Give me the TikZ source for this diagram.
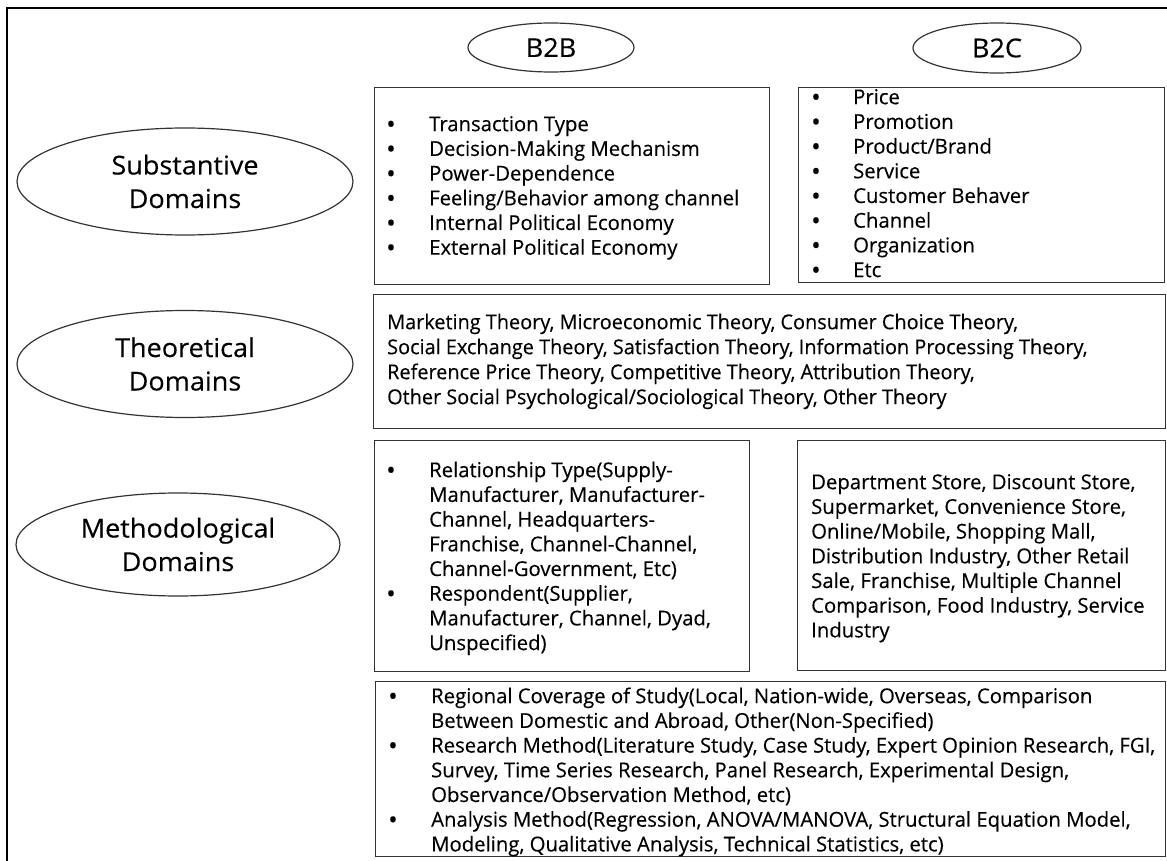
\documentclass[tikz,border=0pt]{standalone}
\usepackage{fontspec}
\setmainfont{Open Sans}[FakeStretch=0.99, FakeBold=0.3]
\newfontfamily\thfont{Open Sans}[FakeStretch=0.97, FakeBold=0.3]
\newfontfamily\elfont{Open Sans}[FakeStretch=1.04, FakeBold=0.3]
\usetikzlibrary{shapes.geometric}
\definecolor{frame}{HTML}{333333}
\newcommand\bdot{\raisebox{-2pt}{\scalebox{1.25}{\textbullet}}}
\newcommand\bul{\makebox[43pt][l]{\bdot}}
\newcommand\ind{\hspace*{43pt}}
\tikzset{
  box/.style={draw=frame, line width=1.4pt, anchor=north west, inner sep=0pt},
  ell/.style={ellipse, draw=frame, line width=1.2pt, inner sep=0pt, align=center,
              font=\elfont\fontsize{26}{33.5}\selectfont},
  lst/.style={anchor=north west, inner sep=0pt, font=\fontsize{20.5}{24.7}\selectfont},
}
\begin{document}
\begin{tikzpicture}[x=1pt,y=-1pt]
\useasboundingbox (0,0) rectangle (1167,861);
\draw[line width=1.4pt, black] (7,861) -- (7,8) -- (1167,8);

% header ellipses
\node[ell, minimum width=166pt, minimum height=49pt] (b2b) at (551,47.5) {B2B};
\node[ell, minimum width=168pt, minimum height=50pt] (b2c) at (997,48) {B2C};

% domain ellipses
\node[ell, minimum width=336pt, minimum height=107pt] (sub) at (185,181.5) {Substantive\\Domains};
\node[ell, minimum width=336pt, minimum height=107pt] (theo) at (185,364) {Theoretical\\Domains};
\node[ell, minimum width=324pt, minimum height=103pt] (meth) at (178,544.5) {Methodological\\Domains};

% boxes
\node[box, minimum width=395pt, minimum height=197pt] (subb2b) at (374,87) {};
\node[box, minimum width=366pt, minimum height=195pt] (subb2c) at (798,87) {};
\node[box, minimum width=792pt, minimum height=134pt] (theobox) at (373,294) {};
\node[box, minimum width=375pt, minimum height=231pt] (methb2b) at (374,440) {};
\node[box, minimum width=368pt, minimum height=230pt] (methb2c) at (797,440) {};
\node[box, minimum width=790pt, minimum height=175pt] (methall) at (375,681) {};

% texts
\node[lst] (t1) at (386,113.7) {\begin{tabular}{@{}l@{}}
\bul Transaction Type\\
\bul Decision-Making Mechanism\\
\bul Power-Dependence\\
\bul Feeling/Behavior among channel\\
\bul Internal Political Economy\\
\bul External Political Economy
\end{tabular}};

\node[lst] (t2) at (811,86.7) {\begin{tabular}{@{}l@{}}
\makebox[42pt][l]{\bdot}Price\\
\makebox[42pt][l]{\bdot}Promotion\\
\makebox[42pt][l]{\bdot}Product/Brand\\
\makebox[42pt][l]{\bdot}Service\\
\makebox[42pt][l]{\bdot}Customer Behaver\\
\makebox[42pt][l]{\bdot}Channel\\
\makebox[42pt][l]{\bdot}Organization\\
\makebox[42pt][l]{\bdot}Etc
\end{tabular}};

\node[lst, font=\thfont\fontsize{20.5}{25}\selectfont] (t3) at (387,311.5) {\begin{tabular}{@{}l@{}}
Marketing Theory, Microeconomic Theory, Consumer Choice Theory,\\
Social Exchange Theory, Satisfaction Theory, Information Processing Theory,\\
Reference Price Theory, Competitive Theory, Attribution Theory,\\
Other Social Psychological/Sociological Theory, Other Theory
\end{tabular}};

\node[lst] (t4) at (386,459.7) {\begin{tabular}{@{}l@{}}
\bul Relationship Type(Supply-\\
\ind Manufacturer, Manufacturer-\\
\ind Channel, Headquarters-\\
\ind Franchise, Channel-Channel,\\
\ind Channel-Government, Etc)\\
\bul Respondent(Supplier,\\
\ind Manufacturer, Channel, Dyad,\\
\ind Unspecified)
\end{tabular}};

\node[lst] (t5) at (811,471.7) {\begin{tabular}{@{}l@{}}
Department Store, Discount Store,\\
Supermarket, Convenience Store,\\
Online/Mobile, Shopping Mall,\\
Distribution Industry, Other Retail\\
Sale, Franchise, Multiple Channel\\
Comparison, Food Industry, Service\\
Industry
\end{tabular}};

\node[lst] (t6) at (388,685.7) {\begin{tabular}{@{}l@{}}
\bul Regional Coverage of Study(Local, Nation-wide, Overseas, Comparison\\
\ind Between Domestic and Abroad, Other(Non-Specified)\\
\bul \makebox[724pt][s]{Research Method(Literature Study, Case Study, Expert Opinion Research, FGI,}\\
\ind Survey, Time Series Research, Panel Research, Experimental Design,\\
\ind Observance/Observation Method, etc)\\
\bul Analysis Method(Regression, ANOVA/MANOVA, Structural Equation Model,\\
\ind Modeling, Qualitative Analysis, Technical Statistics, etc)
\end{tabular}};
\end{tikzpicture}
\end{document}
